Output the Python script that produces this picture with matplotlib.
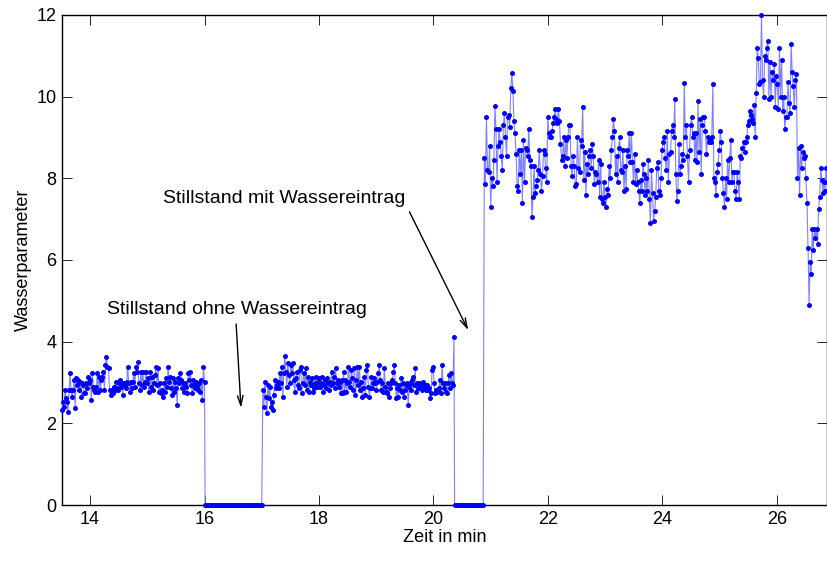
import numpy as np
import matplotlib
matplotlib.use("Agg")
import matplotlib.pyplot as plt

plt.rcParams['font.family'] = ['Liberation Sans', 'DejaVu Sans']

# segment time ranges (min)
seg1_t = (13.51, 16.0)
seg2_t = (16.01, 17.0)
seg3_t = (17.02, 20.36)
seg4_t = (20.37, 20.87)
seg5_t = (20.89, 26.88)

seg1_v = [2.33, 2.53, 2.4, 2.82, 2.63, 2.53, 2.28, 2.82, 3.24, 2.82, 2.65, 2.82, 3.07, 2.38, 3.12,
          2.94, 3.07, 2.82, 3.02, 2.65, 2.99, 2.94, 2.75, 2.75, 2.99, 2.87, 3.14, 2.99, 3.07, 2.58,
          3.24, 2.9, 2.82, 2.77, 2.9, 3.24, 2.77, 3.14, 2.82, 3.07, 3.14, 3.26, 2.82, 3.44, 3.63,
          3.39, 3.36, 2.82, 2.7, 2.82, 2.75, 2.9, 2.82, 3.02, 2.87, 2.82, 2.99, 3.07, 2.9, 2.99,
          2.7, 2.99, 2.94, 2.87, 3.02, 3.39, 2.99, 2.77, 3.02, 2.87, 3.02, 3.24, 2.9, 3.39, 3.26,
          3.51, 2.99, 2.82, 3.26, 2.94, 3.26, 2.9, 3.02, 3.26, 2.99, 3.12, 2.77, 3.26, 2.9, 3.14,
          2.82, 2.99, 3.19, 3.39, 2.94, 3.36, 2.77, 2.99, 2.75, 2.82, 2.65, 2.99, 2.77, 3.12, 2.9,
          3.39, 3.02, 3.14, 2.87, 2.7, 3.12, 2.77, 3.02, 2.87, 2.45, 3.12, 2.99, 3.24, 3.07, 2.87,
          2.99, 2.77, 2.99, 2.9, 2.75, 3.24, 3.07, 3.26, 2.94, 2.75, 3.07, 2.94, 2.87, 3.02, 2.9,
          2.82, 2.99, 2.77, 3.07, 2.58, 3.39, 3.02]
seg2_v = [0.0] * 58
seg3_v = [2.82, 2.4, 3.02, 2.65, 2.26, 2.94, 2.63, 2.9, 2.4, 2.53, 2.33, 2.7, 3.07, 2.87, 2.94,
          3.02, 2.87, 3.24, 2.99, 3.39, 2.65, 3.24, 3.66, 3.26, 2.9, 3.48, 3.19, 2.99, 3.44, 3.24,
          3.48, 3.07, 2.77, 3.12, 3.26, 2.94, 2.87, 3.31, 3.39, 2.75, 2.99, 3.24, 2.94, 3.36, 2.82,
          3.14, 2.77, 3.02, 2.94, 3.12, 2.77, 2.87, 2.99, 3.14, 2.9, 3.02, 3.12, 2.9, 2.99, 3.14,
          2.77, 2.94, 3.07, 2.87, 3.12, 2.99, 2.82, 3.02, 2.94, 3.26, 2.99, 3.14, 2.87, 3.36, 2.99,
          3.07, 2.9, 3.02, 2.75, 3.07, 2.75, 3.26, 2.77, 3.07, 2.77, 2.99, 3.39, 3.02, 2.9, 3.31,
          3.12, 2.82, 3.36, 2.7, 3.07, 3.39, 2.94, 3.39, 2.82, 3.02, 2.65, 2.87, 3.14, 2.7, 3.31,
          3.44, 2.9, 2.65, 2.87, 3.14, 2.87, 2.99, 3.12, 2.99, 2.82, 3.02, 3.24, 3.44, 3.07, 2.82,
          2.99, 2.77, 3.36, 2.9, 2.77, 2.75, 2.99, 2.65, 2.87, 2.99, 3.07, 3.26, 3.44, 2.99, 2.63,
          2.87, 2.65, 2.94, 2.82, 3.12, 2.77, 2.99, 2.65, 2.82, 2.94, 2.99, 2.45, 2.9, 2.99, 2.82,
          3.07, 3.14, 2.94, 3.36, 2.77, 2.99, 2.87, 2.99, 2.87, 2.94, 2.82, 3.02, 2.87, 2.94, 2.82,
          2.94, 2.82, 2.87, 2.63, 2.75, 3.31, 3.39, 2.99, 2.75, 2.82, 2.77, 2.82, 2.87, 3.07, 2.75,
          3.44, 2.99, 2.87, 2.99, 2.77, 2.75, 2.99, 3.19, 2.87, 3.24, 2.99, 2.94, 4.12]
seg4_v = [0.0] * 28
seg5_v = [8.5, 7.85, 9.5, 8.2, 8.15, 8.8, 7.3, 8.0, 7.8, 8.45, 9.77, 9.2, 7.9, 8.8, 9.2, 8.9,
          8.55, 8.2, 9.3, 9.6, 9.0, 8.55, 9.5, 9.55, 9.25, 10.2, 10.58, 10.15, 9.4, 9.1, 8.6, 7.8,
          7.7, 8.7, 8.1, 8.7, 7.4, 8.95, 7.9, 8.75, 8.7, 8.55, 9.2, 8.45, 8.3, 7.05, 7.55, 8.3,
          7.65, 7.8, 7.95, 8.2, 8.7, 8.1, 7.7, 8.05, 8.7, 8.6, 8.25, 7.9, 9.5, 9.1, 9.0, 9.0,
          9.15, 9.35, 9.5, 9.7, 9.45, 9.35,
          9.7, 9.4, 8.85, 8.45, 8.55, 9.0, 8.3, 8.95, 8.5, 9.0, 9.3, 9.3, 8.3, 8.05, 8.55, 8.3,
          7.8, 7.85, 9.0, 8.25, 8.15, 8.95, 8.8, 9.75, 7.95, 8.65, 7.6, 8.35, 8.1, 8.55, 8.7, 8.25,
          8.85, 8.55, 7.85, 8.15, 8.1, 7.9, 8.45, 7.55, 8.35, 7.5, 7.4, 7.9, 7.55, 7.3, 7.75, 7.6,
          8.3, 8.0, 8.7, 9.0, 9.45, 9.15, 8.1, 8.55, 7.9, 8.75, 9.0, 8.2, 8.15, 8.7, 7.7, 8.3,
          7.75, 8.7, 8.55, 9.1, 8.4, 9.1, 8.4, 7.9, 8.6, 7.85, 8.2, 7.9, 7.7, 7.4, 7.95, 7.7,
          8.34, 8.1, 7.6, 8.0, 7.7, 8.45, 7.5, 6.9, 8.2, 7.65, 6.95, 7.2, 7.55, 8.25, 8.4, 7.7,
          7.6, 8.0, 8.7, 8.9, 9.0, 8.5, 8.2, 9.15, 7.9, 8.6, 8.65, 9.15, 9.3, 9.0, 9.95, 8.1,
          7.45, 7.7, 8.85, 8.1, 8.3, 8.6, 8.45, 10.33, 9.0, 9.3, 8.55, 7.9, 8.7, 9.3, 9.5, 9.0,
          9.1, 8.45, 9.1, 8.4, 9.9, 8.65, 9.45, 8.1, 9.3, 9.5, 9.5, 9.15, 8.6, 9.0, 8.9, 8.95,
          8.9, 9.0, 10.3, 8.0, 7.9, 7.6, 8.15, 8.35, 8.7, 9.15, 8.9, 8.0, 7.65, 7.3, 8.0, 7.5,
          8.45, 7.9, 8.5, 8.95, 7.9, 8.15, 8.15, 7.7, 7.5, 8.15, 7.9, 7.5, 8.55, 8.5, 8.75, 8.9,
          8.65, 8.9, 9.0, 9.3, 9.4, 9.65, 9.55, 9.45, 9.35, 9.8, 9.0, 10.1, 11.2, 10.95, 10.3,
          10.35, 12.0, 10.4, 10.0, 11.0, 10.9, 11.2, 11.35, 9.95, 10.85, 10.0, 10.6, 10.4, 10.8,
          9.75, 10.5, 10.3, 9.7, 11.2, 10.0, 10.9, 9.65, 10.0, 9.2, 9.5, 9.5, 10.35, 9.85, 9.6,
          11.3, 10.6, 10.25, 9.75, 10.4, 10.55, 8.0, 8.75, 7.6, 8.8, 8.25, 8.65, 8.5, 8.55, 8.0,
          7.4, 6.3, 4.9, 5.95, 5.65, 6.75, 6.25, 6.75, 6.55, 6.75, 6.4, 7.25, 7.55, 8.25, 7.95,
          7.65, 7.9, 7.7, 8.25, 7.9]

x_ticks = [14, 16, 18, 20, 22, 24, 26]
y_ticks = [0, 2, 4, 6, 8, 10, 12]

segments = [(seg1_t, seg1_v), (seg2_t, seg2_v), (seg3_t, seg3_v), (seg4_t, seg4_v), (seg5_t, seg5_v)]
t = np.concatenate([np.linspace(a, b, len(v)) for (a, b), v in segments])
y = np.concatenate([np.array(v) for _, v in segments])

fig = plt.figure(figsize=(8.28, 5.62), dpi=100)
ax = fig.add_axes([0.0749, 0.1014, 0.924, 0.872])

ax.plot(t, y, '-', color=(0.5, 0.5, 1.0), lw=0.8, zorder=2)
ax.plot(t, y, 'o', color='#0000ff', ms=3.6, mew=0, zorder=3, clip_on=False)

ax.set_xlim(13.51, 26.88)
ax.set_ylim(0, 12)
ax.set_xticks(x_ticks)
ax.set_yticks(y_ticks)
ax.tick_params(direction='in', length=7, width=0.6, top=True, right=True, labelsize=13, pad=4)
for sp in ax.spines.values():
    sp.set_linewidth(1.0)
    sp.set_zorder(1)

ax.set_xlabel('Zeit in min', fontsize=13, labelpad=1)
ax.set_ylabel('Wasserparameter', fontsize=13, labelpad=3)

# annotations
ax.text(16.56, 4.79, 'Stillstand ohne Wassereintrag', fontsize=14, ha='center', va='center')
ax.annotate('', xy=(16.64, 2.31), xytext=(16.55, 4.5),
            arrowprops=dict(arrowstyle='->,head_length=0.7,head_width=0.2', lw=1.0, color='black'))
ax.text(17.40, 7.51, 'Stillstand mit Wassereintrag', fontsize=14, ha='center', va='center')
ax.annotate('', xy=(20.63, 4.22), xytext=(19.56, 7.24),
            arrowprops=dict(arrowstyle='->,head_length=0.7,head_width=0.2', lw=1.0, color='black'))

fig.savefig('out.png', dpi=100)
